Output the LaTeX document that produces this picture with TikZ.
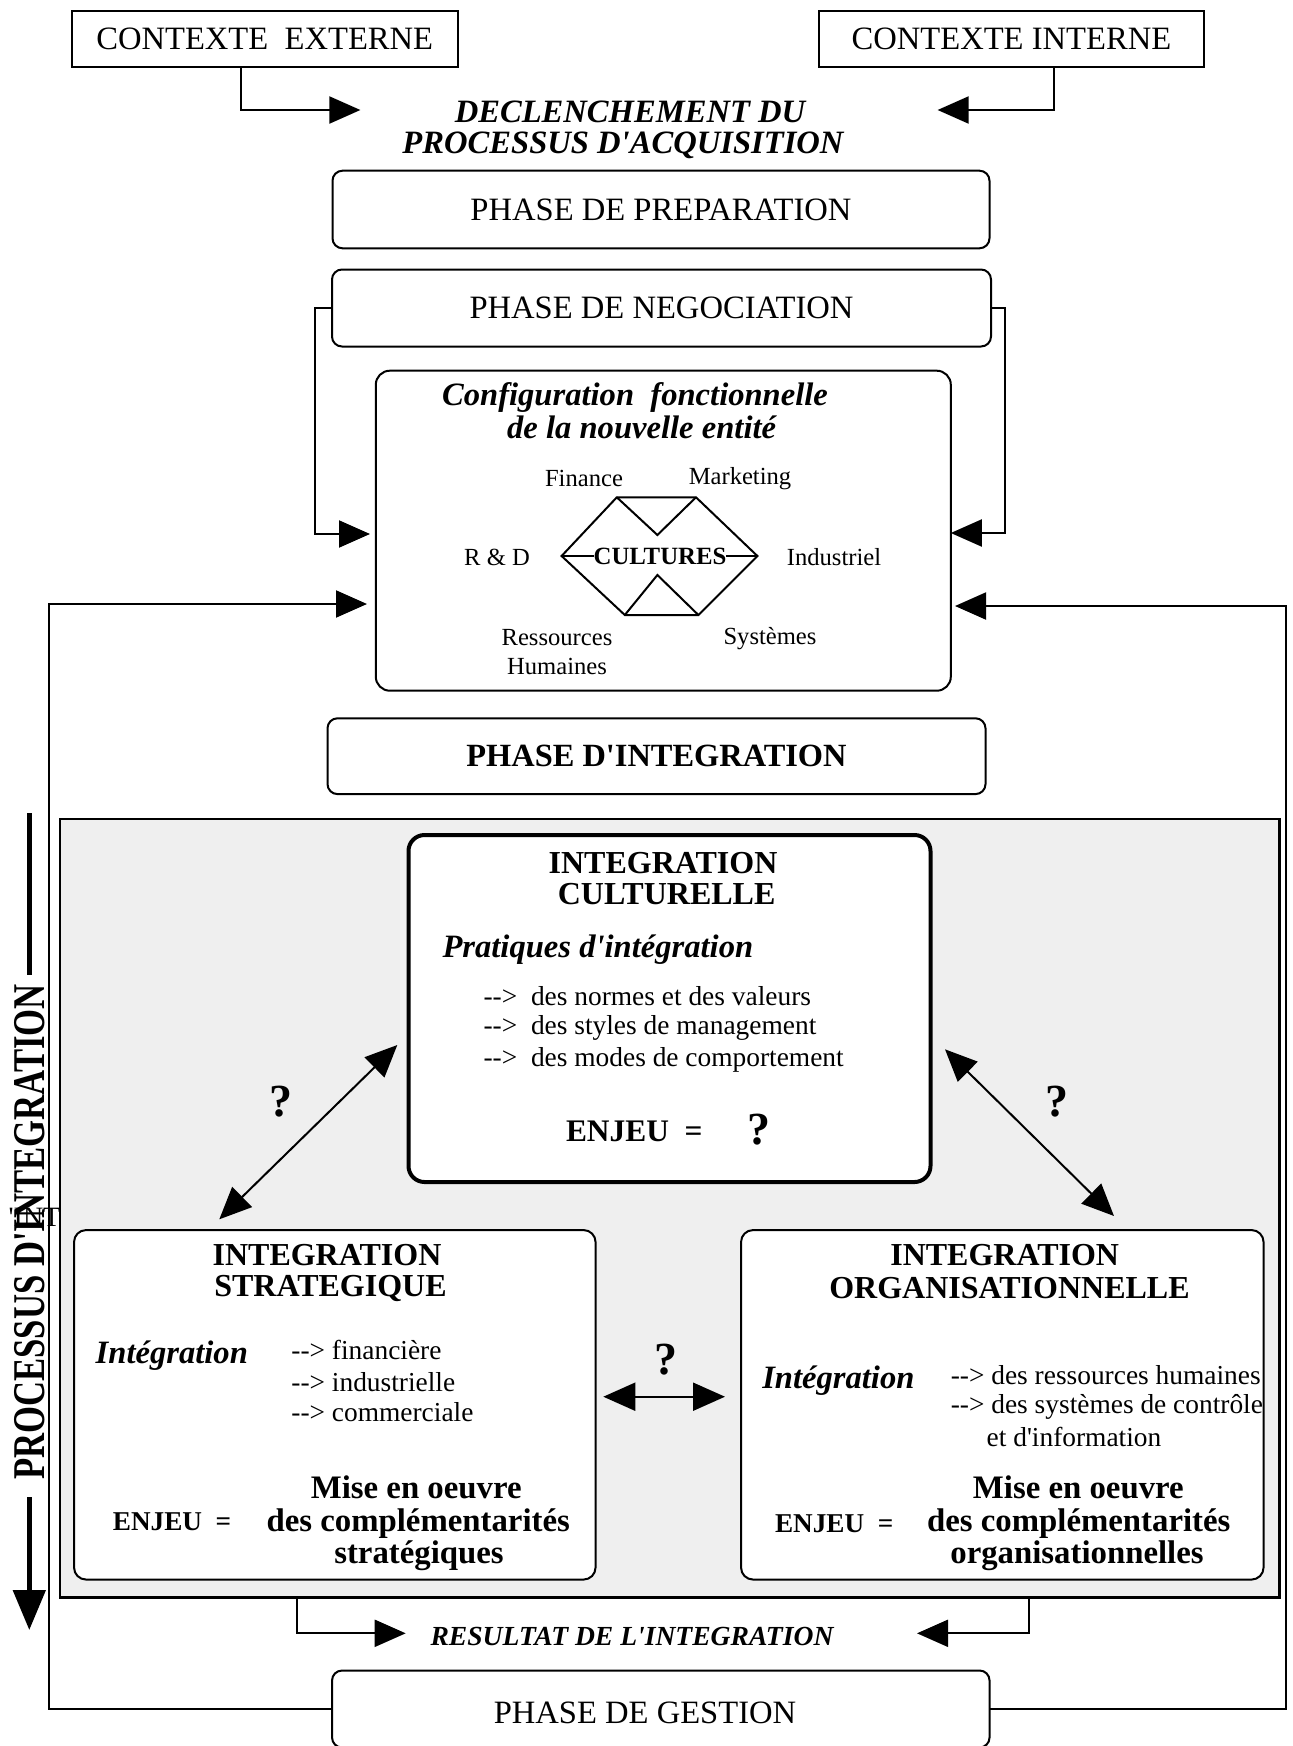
\documentclass[tikz,border=0pt]{standalone}
\usepackage{fontspec}
\usepackage{graphicx}
\usetikzlibrary{arrows.meta}
\newfontfamily\tnr{Liberation Serif}
\newcommand\fz[1]{\fontsize{#1}{#1}\selectfont}
\newcommand\arrtxt{\mbox{-}\mbox{-}>}
\definecolor{panelgray}{RGB}{239,239,239}
\begin{document}
\begin{tikzpicture}[x=0.5pt,y=-0.5pt,
  every node/.style={inner sep=0pt,outer sep=0pt},
  sqbox/.style={draw,line width=1pt,fill=white,font=\tnr\fz{16.3}},
  rbox/.style={draw,line width=1pt,fill=white,rounded corners=5pt},
  arr/.style={line width=1pt,-{Triangle[length=15.5pt,width=13.5pt]}},
  darr/.style={line width=1pt,{Triangle[length=16pt,width=14pt]}-{Triangle[length=16pt,width=14pt]}},
  fr/.style={font=\tnr\fz{16.3}},
  fbi/.style={font=\tnr\bfseries\itshape\fz{16.3}},
  fbt/.style={font=\tnr\bfseries\fz{16}},
  fbm/.style={font=\tnr\bfseries\fz{16.4},anchor=base},
  fsm/.style={font=\tnr\fz{12.3}},
  flist/.style={font=\tnr\fz{13.7}},
  fq/.style={font=\tnr\bfseries\fz{23}},
  fenj/.style={font=\tnr\bfseries\fz{13.6}}
]
\useasboundingbox (0,0) rectangle (1293,1746);

% ---------- shaded integration panel
\node[draw,line width=1.2pt,fill=panelgray,minimum width=609.8pt,minimum height=389.25pt] (panel) at (669.8,1208.3) {};

% ---------- top
\node[sqbox,minimum width=193pt,minimum height=28pt] (ext) at (264.7,38.7) {CONTEXTE\ \ EXTERNE};
\node[sqbox,minimum width=192.5pt,minimum height=28pt] (int) at (1011.4,38.7) {CONTEXTE INTERNE};
\node[fbi] (decl1) at (630,112) {DECLENCHEMENT DU};
\node[fbi] (decl2) at (623,145) {PROCESSUS D'ACQUISITION};
\coordinate (eX) at (240.8,0);
\coordinate (tipE) at (360.4,110);
\draw[arr] (ext.south -| eX) |- (tipE);
\coordinate (iX) at (1053.8,0);
\coordinate (tipI) at (937.6,110);
\draw[arr] (int.south -| iX) |- (tipI);

\node[rbox,fr,minimum width=328.5pt,minimum height=38.8pt] (prep) at (661,209.5) {PHASE DE PREPARATION};
\node[rbox,fr,minimum width=329.5pt,minimum height=38.5pt] (nego) at (661.5,308) {PHASE DE NEGOCIATION};

% ---------- configuration box
\node[rbox,rounded corners=7pt,minimum width=287.5pt,minimum height=160pt] (config) at (663.3,530.7) {};
\node[fbi] (cfg1) at (635,397) {Configuration\ \ fonctionnelle};
\node[fbi] (cfg2) at (641.6,427) {de la nouvelle entité};
\node[fsm] (fin) at (584,478) {Finance};
\node[fsm] (mkt) at (740,479) {Marketing};
\node[fsm] (rd) at (497,557) {R \& D};
\node[fsm] (ind) at (834,557) {Industriel};
\node[fsm,align=center,font=\tnr\fontsize{12.3}{14.5}\selectfont] (rh) at (557,652.5) {Ressources\\Humaines};
\node[fsm] (sys) at (770,639) {Systèmes};
\node[font=\tnr\bfseries\fz{12.4}] (cul) at (660,556) {CULTURES};
\coordinate (hxL) at (561.6,556);
\coordinate (hxTL) at (616.8,497.3);
\coordinate (hxTR) at (696,497.3);
\coordinate (hxR) at (757.4,556);
\coordinate (hxBR) at (698.4,615);
\coordinate (hxBL) at (624.8,615);
\draw[line width=1pt,line join=miter] (hxL) -- (hxTL) -- (hxTR) -- (hxR) -- (hxBR) -- (hxBL) -- cycle;
\draw[line width=1pt] (hxTL) -- (657.4,535) -- (hxTR);
\draw[line width=1pt] (hxBL) -- (657.4,575) -- (hxBR);
\draw[line width=1pt] (hxL) -- (cul.west);
\draw[line width=1pt] (cul.east) -- (hxR);

% negotiation loops
\coordinate (nLc) at (315.4,534);
\coordinate (tipNL) at (370,534);
\draw[arr] (nego.west) -| (nLc) -- (tipNL);
\coordinate (nRc) at (1005,533);
\draw[arr] (nego.east) -| (nRc) -- (config.east |- nRc);

\node[rbox,minimum width=329pt,minimum height=37.9pt,font=\tnr\bfseries\fz{16.2}] (integ) at (656.5,756.2) {PHASE D'INTEGRATION};

% ---------- culturelle
\node[draw,line width=2pt,fill=white,rounded corners=8pt,minimum width=261pt,minimum height=173.5pt] (cult) at (669.5,1008.5) {};
\node[fbt] (ct1) at (663,863) {INTEGRATION};
\node[fbt] (ct2) at (666.6,894) {CULTURELLE};
\node[fbi,anchor=west] (prat) at (442.5,950) {Pratiques d'intégration};
\node[flist,anchor=west] (cl1) at (483.6,996.3) {\arrtxt\ \ des normes et des valeurs};
\node[flist,anchor=west] (cl2) at (483.6,1028) {\arrtxt\ \ des styles de management};
\node[flist,anchor=west] (cl3) at (483.6,1060.3) {\arrtxt\ \ des modes de comportement};
\node[font=\tnr\bfseries\fz{15.7},anchor=west] (cenj) at (566,1131.7) {ENJEU\ \ =};
\node[fq] (cq) at (758.6,1130) {?};

% ---------- strategique
\node[rbox,rounded corners=6pt,minimum width=260.75pt,minimum height=174.75pt] (strat) at (334.8,1404.8) {};
\node[fbt] (st1) at (327,1255) {INTEGRATION};
\node[fbt] (st2) at (330.5,1288) {STRATEGIQUE};
\node[fbi,anchor=west] (sint) at (95.7,1355.7) {Intégration};
\node[flist,anchor=west] (sl1) at (291.4,1350) {\arrtxt\ financière};
\node[flist,anchor=west] (sl2) at (291.4,1381.7) {\arrtxt\ industrielle};
\node[flist,anchor=west] (sl3) at (291.4,1411.7) {\arrtxt\ commerciale};
\node[fbm] (sm1) at (416.2,1498.5) {Mise en oeuvre};
\node[fbm] (sm2) at (418.2,1531) {des complémentarités};
\node[fbm] (sm3) at (419,1563) {stratégiques};
\node[fenj,anchor=west] (senj) at (112.9,1521.7) {ENJEU\ \ =};

% ---------- organisationnelle
\node[rbox,rounded corners=6pt,minimum width=261.25pt,minimum height=174.75pt] (orga) at (1002.3,1404.8) {};
\node[fbt] (ot1) at (1004.7,1255) {INTEGRATION};
\node[fbt] (ot2) at (1009.5,1288) {ORGANISATIONNELLE};
\node[fbi,anchor=west] (oint) at (762.3,1380.7) {Intégration};
\node[flist,anchor=west] (ol1) at (950.8,1375) {\arrtxt\ des ressources humaines};
\node[flist,anchor=west] (ol2) at (950.8,1406.7) {\arrtxt\ des systèmes de contrôle};
\node[flist,anchor=west] (ol3) at (986.7,1436.7) {et d'information};
\node[fbm] (om1) at (1078.3,1498.5) {Mise en oeuvre};
\node[fbm] (om2) at (1078.8,1531) {des complémentarités};
\node[fbm] (om3) at (1077,1563) {organisationnelles};
\node[fenj,anchor=west] (oenj) at (775,1523.3) {ENJEU\ \ =};

% ---------- question marks and double arrows
\node[fq] (q1) at (280.7,1101.7) {?};
\node[fq] (q2) at (1057.3,1101.7) {?};
\node[fq] (q3) at (666,1360) {?};
\coordinate (dl1) at (397.3,1045);
\coordinate (dl2) at (219.3,1219.3);
\draw[darr] (dl2) -- (dl1);
\coordinate (dr1) at (945,1049.3);
\coordinate (dr2) at (1114,1216);
\draw[darr] (dr1) -- (dr2);
\coordinate (dh1) at (603.3,1396.7);
\coordinate (dh2) at (725,1396.7);
\draw[darr] (dh1) -- (dh2);

% ---------- vertical label
\node[rotate=90] (vlab) at (29.5,1232) {\scalebox{0.764}[1]{\tnr\bfseries\fz{22.7}PROCESSUS D'INTEGRATION}};
\node[font=\tnr\fz{14}] (stray) at (34.5,1217) {'INT};
\coordinate (vTop) at (29.3,813);
\coordinate (vA) at (29.3,975);
\coordinate (vB) at (29.3,1497);
\coordinate (vTip) at (29.3,1630);
\draw[line width=2.5pt] (vTop) -- (vA);
\draw[line width=2.5pt,-{Triangle[length=20pt,width=16pt]}] (vB) -- (vTip);

% ---------- result
\node[font=\tnr\bfseries\itshape\fz{13.8}] (res) at (632,1636) {RESULTAT DE L'INTEGRATION};
\coordinate (rL) at (297,0);
\coordinate (tipRL) at (405.7,1633.3);
\draw[arr] (panel.south -| rL) |- (tipRL);
\coordinate (rR) at (1029,0);
\coordinate (tipRR) at (917,1633.3);
\draw[arr] (panel.south -| rR) |- (tipRR);

% ---------- gestion + feedback
\node[rbox,minimum width=328.75pt,minimum height=38.5pt] (gest) at (660.8,1709) {};
\node[fr] (gestt) at (645,1713) {PHASE DE GESTION};
\coordinate (fL) at (48.5,604);
\coordinate (tipFL) at (367,604);
\draw[arr] (gest.west) -| (fL) -- (tipFL);
\coordinate (fR) at (1285.5,606);
\coordinate (tipFR) at (955,606);
\draw[arr] (gest.east) -| (fR) -- (tipFR);
\end{tikzpicture}
\end{document}
